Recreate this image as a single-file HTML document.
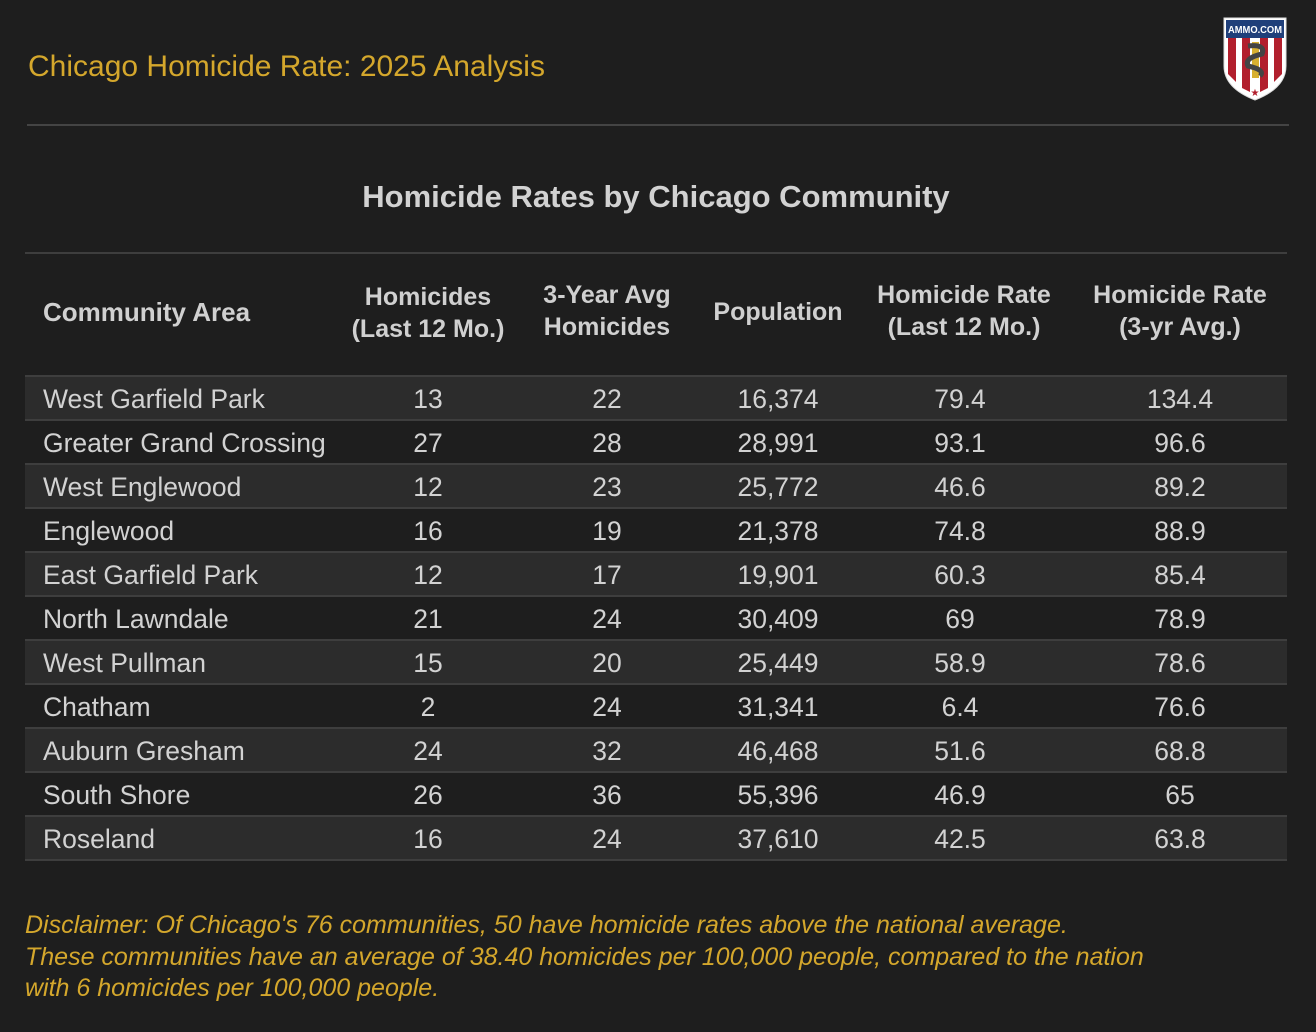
<!DOCTYPE html>
<html><head><meta charset="utf-8"><style>
*{margin:0;padding:0;box-sizing:border-box}
body{width:1316px;height:1032px;background:#1e1e1e;position:relative;overflow:hidden;font-family:"Liberation Sans",sans-serif}
.t{position:absolute;white-space:nowrap}
.row{position:absolute;left:25px;width:1262px;height:44px}
.odd{background:#2c2c2c;border-top:2px solid #3e3e3e;border-bottom:2px solid #3e3e3e}
.c{position:absolute;top:0;height:44px;line-height:46px;font-size:26.5px;color:#d2d2d2;white-space:nowrap}
.n{transform:translateX(-50%)}
.h{position:absolute;font-size:25px;font-weight:bold;color:#d0d0d0;text-align:center;line-height:32px;white-space:nowrap;transform:translateX(-50%)}
</style></head><body>
<div class="t" style="left:28px;top:50px;font-size:30px;color:#d4a72c">Chicago Homicide Rate: 2025 Analysis</div>
<svg style="position:absolute;left:1222px;top:16px" width="66" height="86" viewBox="0 0 66 86">
<path d="M2 2 H64 V50 Q64 72 33 84 Q2 72 2 50 Z" fill="#fff" stroke="#ddd"/>
<path d="M6 22 H14 V66 L6 58Z" fill="#b21f2d"/><path d="M20 22 H28 V76 L20 72Z" fill="#b21f2d"/><path d="M38 22 H46 V72 L38 76Z" fill="#b21f2d"/><path d="M52 22 H60 V58 L52 66Z" fill="#b21f2d"/>
<rect x="4" y="4" width="58" height="18" fill="#1f3f7a"/>
<text x="33" y="17" font-size="10" font-family="Liberation Sans" font-weight="bold" fill="#fff" text-anchor="middle" textLength="54" lengthAdjust="spacingAndGlyphs">AMMO.COM</text>
<rect x="30" y="26" width="7" height="36" fill="#d8b030"/>
<path d="M26 30 Q44 28 40 38 Q22 42 26 50 Q44 54 38 60" stroke="#444" stroke-width="5" fill="none"/>
<text x="33" y="80" font-size="10" fill="#b21f2d" text-anchor="middle">★</text>
</svg>
<div style="position:absolute;left:27px;top:124px;width:1262px;height:2px;background:#444"></div>
<div class="t" style="left:0;width:1312px;text-align:center;top:179px;font-size:31px;font-weight:bold;color:#d2d2d2">Homicide Rates by Chicago Community</div>
<div style="position:absolute;left:25px;top:252px;width:1262px;height:2px;background:#3e3e3e"></div>
<div class="h" style="left:43px;top:296px;transform:none;font-size:26px">Community Area</div>
<div class="h" style="left:428px;top:281px">Homicides<br>(Last 12 Mo.)</div>
<div class="h" style="left:607px;top:279px">3-Year Avg<br>Homicides</div>
<div class="h" style="left:778px;top:296px">Population</div>
<div class="h" style="left:964px;top:279px">Homicide Rate<br>(Last 12 Mo.)</div>
<div class="h" style="left:1180px;top:279px">Homicide Rate<br>(3-yr Avg.)</div>
<div id="rows"></div>
<div class="t" style="left:25px;top:910px;font-size:25px;font-style:italic;color:#d4a72c;line-height:31.5px">Disclaimer: Of Chicago's 76 communities, 50 have homicide rates above the national average.<br>These communities have an average of 38.40 homicides per 100,000 people, compared to the nation<br>with 6 homicides per 100,000 people.</div>
<script>
var d=[["West Garfield Park",13,22,"16,374","79.4","134.4"],["Greater Grand Crossing",27,28,"28,991","93.1","96.6"],["West Englewood",12,23,"25,772","46.6","89.2"],["Englewood",16,19,"21,378","74.8","88.9"],["East Garfield Park",12,17,"19,901","60.3","85.4"],["North Lawndale",21,24,"30,409","69","78.9"],["West Pullman",15,20,"25,449","58.9","78.6"],["Chatham",2,24,"31,341","6.4","76.6"],["Auburn Gresham",24,32,"46,468","51.6","68.8"],["South Shore",26,36,"55,396","46.9","65"],["Roseland",16,24,"37,610","42.5","63.8"]];
var cx=[403,582,753,935,1155],h="";
d.forEach(function(r,i){var y=376+i*44;h+='<div class="row'+(i%2==0?' odd':'')+'" style="top:'+(y-(i%2==0?1:0))+'px;'+(i%2==0?'height:46px':'')+'">';
h+='<div class="c" style="left:18px;top:'+(i%2==0?-1:0)+'px">'+r[0]+'</div>';
for(var j=0;j<5;j++)h+='<div class="c n" style="left:'+cx[j]+'px;top:'+(i%2==0?-1:0)+'px">'+r[j+1]+'</div>';
h+='</div>';});
document.getElementById('rows').innerHTML=h;
</script>
</body></html>
